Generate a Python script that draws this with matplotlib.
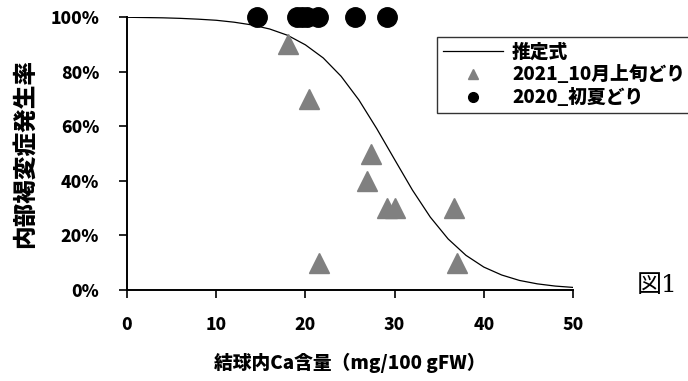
import matplotlib
matplotlib.use('Agg')
import matplotlib.pyplot as plt
from matplotlib.ticker import PercentFormatter

plt.rcParams['font.family'] = ['Noto Sans CJK JP', 'DejaVu Sans']

# 2021 (October harvest) points
ca_2021 = [18.0, 20.4, 27.3, 26.9, 29.1, 30.1, 36.7, 21.5, 37.0]
rate_2021 = [90, 70, 50, 40, 30, 30, 30, 10, 10]

# 2020 (early summer harvest) points
ca_2020 = [14.6, 19.1, 19.6, 20.2, 21.4, 25.6, 29.2]
rate_2020 = [100, 100, 100, 100, 100, 100, 100]

# estimated curve
curve_x = [0, 2, 4, 6, 8, 10, 12, 14, 16, 18, 20, 22, 24, 26,
           28, 30, 32, 34, 36, 38, 40, 42, 44, 46, 48, 50]
curve_y = [99.9, 99.8, 99.7, 99.5, 99.2, 98.8, 98.1, 97.1, 95.6, 93.3,
           89.8, 85.0, 78.3, 69.6, 59.1, 47.8, 36.6, 26.7, 18.7, 12.7,
           8.4, 5.5, 3.5, 2.25, 1.44, 0.95]

fig = plt.figure(figsize=(6.88, 3.81), dpi=100)
ax = fig.add_axes([127/688, 91/381, 446/688, 273/381])

line, = ax.plot(curve_x, curve_y, color='black', lw=0.9, label='推定式')
tri, = ax.plot(ca_2021, rate_2021, ls='none', marker='^', ms=15,
               color='#808080', clip_on=False, label='2021_10月上旬どり')
dot, = ax.plot(ca_2020, rate_2020, ls='none', marker='o', ms=14,
               color='black', clip_on=False, label='2020_初夏どり')

ax.set_xlim(0, 50)
ax.set_ylim(0, 100)
ax.set_xticks(range(0, 51, 10))
ax.set_yticks(range(0, 101, 20))
ax.yaxis.set_major_formatter(PercentFormatter(decimals=0))

for s in ['top', 'right']:
    ax.spines[s].set_visible(False)
for s in ['left', 'bottom']:
    ax.spines[s].set_linewidth(1.4)
ax.tick_params(direction='out', length=6, width=1.2, labelsize=12.5)
ax.tick_params(axis='y', pad=14)
ax.tick_params(axis='x', pad=13)
for lab in ax.get_xticklabels() + ax.get_yticklabels():
    lab.set_fontweight('heavy')

ax.set_xlabel('結球内Ca含量（mg/100 gFW）', fontsize=13.5, fontweight='heavy', labelpad=13)
ax.set_ylabel('内部褐変症発生率', fontsize=17, fontweight='heavy', labelpad=9)

leg = fig.legend(handles=[line, tri, dot], loc='upper left',
                 bbox_to_anchor=(437/688, 1 - 37/381),
                 prop={'weight': 'heavy', 'size': 13.5},
                 markerscale=0.5, handlelength=3.2, handletextpad=0.5,
                 labelspacing=0.2, borderpad=0.3, frameon=True,
                 fancybox=False, edgecolor='black', borderaxespad=0)
leg.get_frame().set_linewidth(1.0)

fig.text(637/688, 1 - 286/381, '図1', fontsize=18, va='center', ha='left',
         family=['DejaVu Serif', 'Noto Sans CJK JP'])

fig.savefig('out.png', dpi=100)
